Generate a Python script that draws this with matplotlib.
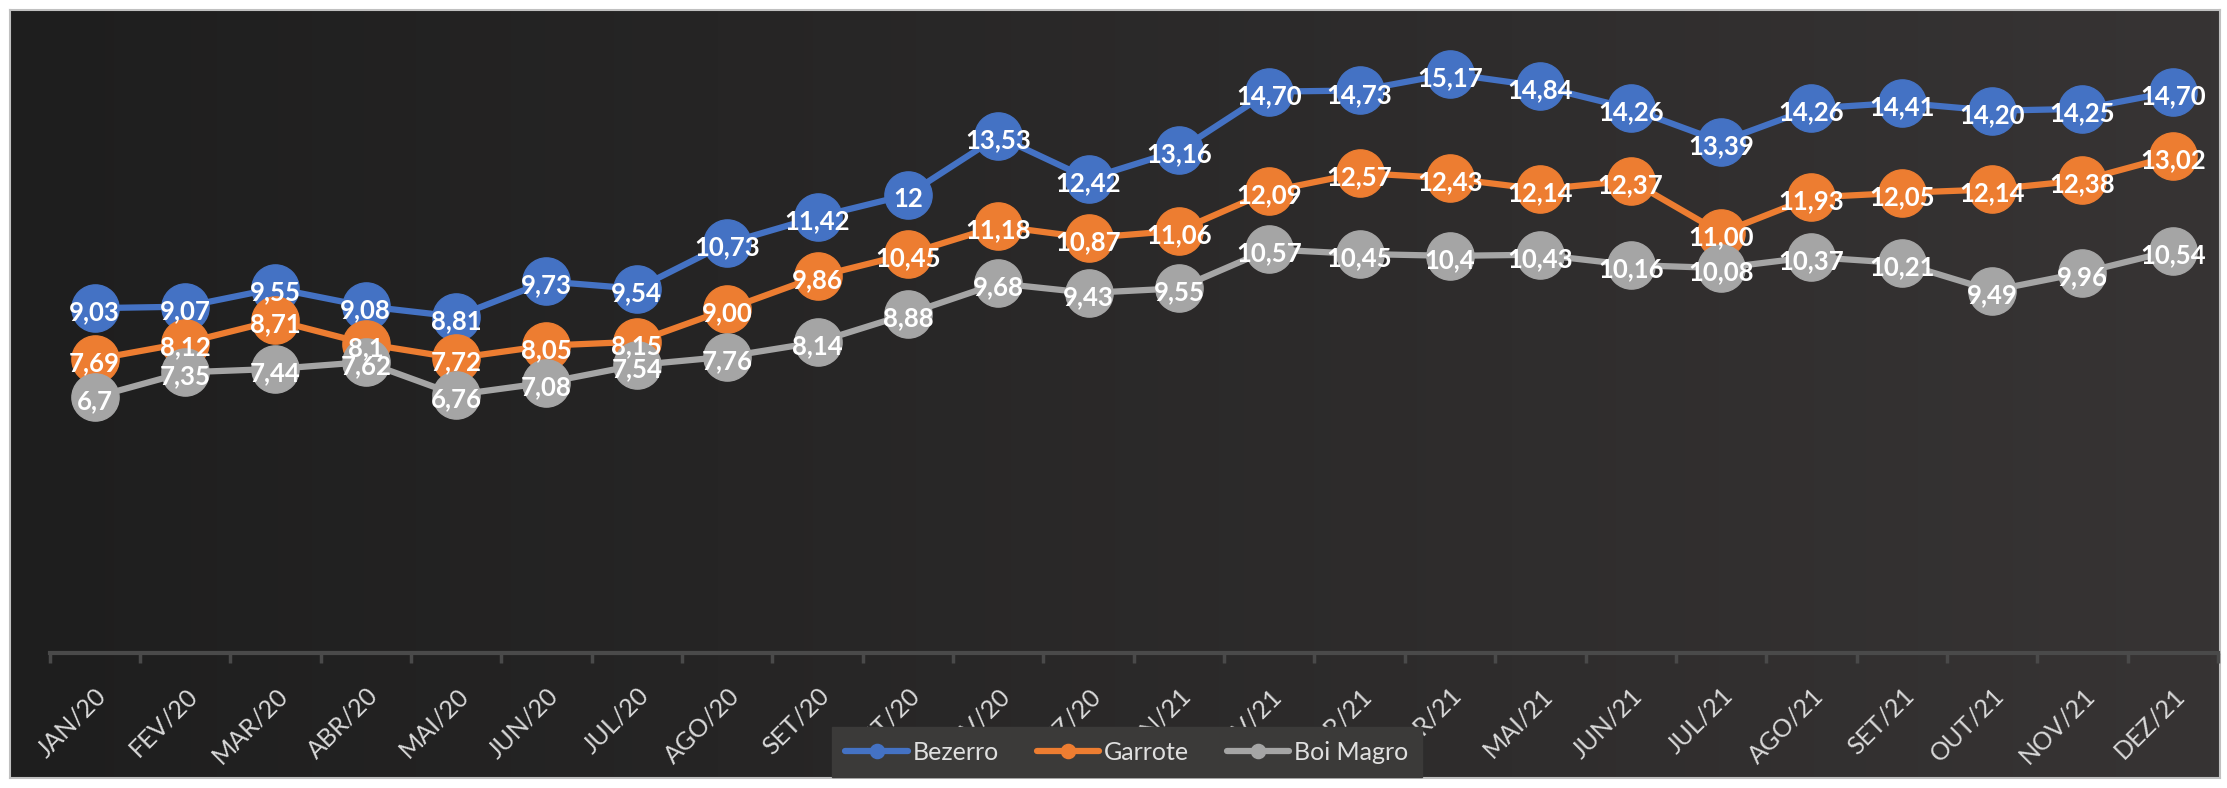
import matplotlib
matplotlib.use("Agg")
import matplotlib.pyplot as plt
import numpy as np

plt.rcParams['font.family'] = ['Lato', 'DejaVu Sans']

meses = ['JAN/20', 'FEV/20', 'MAR/20', 'ABR/20', 'MAI/20', 'JUN/20', 'JUL/20',
         'AGO/20', 'SET/20', 'OUT/20', 'NOV/20', 'DEZ/20', 'JAN/21', 'FEV/21',
         'MAR/21', 'ABR/21', 'MAI/21', 'JUN/21', 'JUL/21', 'AGO/21', 'SET/21',
         'OUT/21', 'NOV/21', 'DEZ/21']

bezerro = [9.03, 9.07, 9.55, 9.08, 8.81, 9.73, 9.54, 10.73, 11.42, 12.00,
           13.53, 12.42, 13.16, 14.70, 14.73, 15.17, 14.84, 14.26, 13.39,
           14.26, 14.41, 14.20, 14.25, 14.70]
bezerro_lbl = ['9,03', '9,07', '9,55', '9,08', '8,81', '9,73', '9,54', '10,73',
               '11,42', '12', '13,53', '12,42', '13,16', '14,70', '14,73',
               '15,17', '14,84', '14,26', '13,39', '14,26', '14,41', '14,20',
               '14,25', '14,70']

garrote = [7.69, 8.12, 8.71, 8.10, 7.72, 8.05, 8.15, 9.00, 9.86, 10.45, 11.18,
           10.87, 11.06, 12.09, 12.57, 12.43, 12.14, 12.37, 11.00, 11.93,
           12.05, 12.14, 12.38, 13.02]
garrote_lbl = ['7,69', '8,12', '8,71', '8,1', '7,72', '8,05', '8,15', '9,00',
               '9,86', '10,45', '11,18', '10,87', '11,06', '12,09', '12,57',
               '12,43', '12,14', '12,37', '11,00', '11,93', '12,05', '12,14',
               '12,38', '13,02']

boi_magro = [6.70, 7.35, 7.44, 7.62, 6.76, 7.08, 7.54, 7.76, 8.14, 8.88, 9.68,
             9.43, 9.55, 10.57, 10.45, 10.40, 10.43, 10.16, 10.08, 10.37,
             10.21, 9.49, 9.96, 10.54]
boi_magro_lbl = ['6,7', '7,35', '7,44', '7,62', '6,76', '7,08', '7,54', '7,76',
                 '8,14', '8,88', '9,68', '9,43', '9,55', '10,57', '10,45',
                 '10,4', '10,43', '10,16', '10,08', '10,37', '10,21', '9,49',
                 '9,96', '10,54']

series = [
    ('Bezerro', bezerro, bezerro_lbl, '#4472C4'),
    ('Garrote', garrote, garrote_lbl, '#ED7D31'),
    ('Boi Magro', boi_magro, boi_magro_lbl, '#A5A5A5'),
]

W, H = 2227, 788
fig = plt.figure(figsize=(W / 100, H / 100), dpi=100, facecolor='white')

# dark gradient background with light grey frame
bg = fig.add_axes([10 / W, 10 / H, 2210 / W, 768 / H])
c0 = np.array([30, 30, 30]) / 255
c1 = np.array([55, 52, 52]) / 255
t = np.linspace(0, 1, 256)
grad = (c0[None, :] * (1 - t[:, None]) + c1[None, :] * t[:, None])[None, :, :]
bg.imshow(grad, aspect='auto', extent=[0, 1, 0, 1])
bg.set_xticks([])
bg.set_yticks([])
for s in bg.spines.values():
    s.set_color('#c0c0c0')
    s.set_linewidth(1.5)

ax = fig.add_axes([49.5 / W, 135 / H, 2168.5 / W, 611 / H])
ax.patch.set_alpha(0)
x = np.arange(len(meses))

for i, (nome, vals, lbls, cor) in enumerate(series):
    ax.plot(x, vals, color=cor, lw=4.5, marker='o', ms=34, mec=cor, mfc=cor,
            label=nome, zorder=2 + i, solid_capstyle='round')

for nome, vals, lbls, cor in series:
    for xi, v, l in zip(x, vals, lbls):
        ax.annotate(l, (xi, v), xytext=(0, -3), textcoords='offset points',
                    ha='center', va='center', color='white',
                    fontsize=18.5, fontweight='bold', zorder=10)

ax.set_xlim(-0.5, len(meses) - 0.5)
ax.set_ylim(0, 16)
ax.set_yticks([])
for side in ['top', 'right', 'left']:
    ax.spines[side].set_visible(False)
ax.spines['bottom'].set_color('#4a4a4a')
ax.spines['bottom'].set_linewidth(3)

ax.set_xticks(x)
ax.set_xticklabels(meses, rotation=45, ha='right', rotation_mode='anchor',
                   color='#d9d9d9', fontsize=18)
ax.tick_params(axis='x', which='major', length=0, pad=22)
ax.set_xticks(np.arange(len(meses) + 1) - 0.5, minor=True)
ax.tick_params(axis='x', which='minor', length=7, width=2.5, color='#4a4a4a')

leg = fig.legend(loc='center', bbox_to_anchor=(1127 / W, 1 - 752 / H),
                 ncol=3, frameon=True, fontsize=18, handlelength=2.5,
                 markerscale=0.3, columnspacing=1.5, handletextpad=0.2,
                 borderpad=0.55)
leg.get_frame().set_facecolor('#3b3a39')
leg.get_frame().set_edgecolor('#3b3a39')
leg.get_frame().set_alpha(1)
leg.get_frame().set_boxstyle('square', pad=0)
for txt in leg.get_texts():
    txt.set_color('#e0e0e0')

fig.savefig('out.png', dpi=100, facecolor='white')
